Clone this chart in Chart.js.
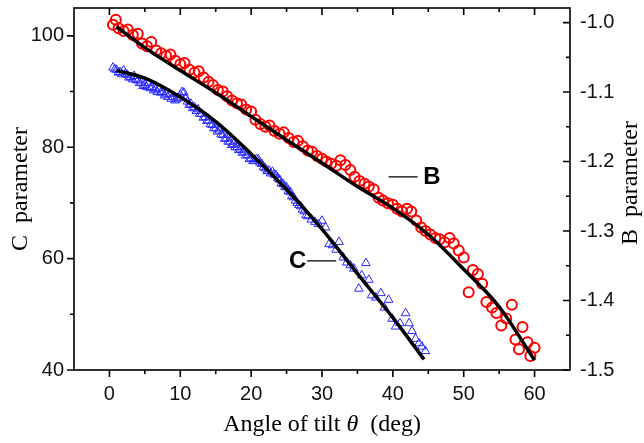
<!DOCTYPE html>
<html>
<head>
<meta charset="utf-8">
<script src="https://cdn.jsdelivr.net/npm/chart.js@4.4.0/dist/chart.umd.min.js"></script>
<style>
  html, body { margin: 0; padding: 0; background: #fff; }
</style>
</head>
<body>
<canvas id="chart" width="644" height="443"></canvas>
<script>
// B parameter (red circles, right axis)
const bAngle = [0.5, 0.9, 1.3, 2.0, 2.6, 3.3, 4.0, 4.6, 5.3, 5.9, 6.6, 7.3, 8.0, 8.6, 9.3, 10.0, 10.6, 11.3, 12.0, 12.6,
  13.3, 14.0, 14.6, 15.3, 16.0, 16.6, 17.3, 18.0, 18.6, 19.3, 20.0, 20.6, 21.3, 22.0, 22.6, 23.3, 24.0, 24.6, 25.3, 26.0,
  26.6, 27.3, 28.0, 28.6, 29.3, 30.0, 30.6, 31.3, 32.0, 32.6, 33.3, 34.0, 34.6, 35.3, 36.0, 36.6, 37.3, 38.0, 38.6, 39.3,
  40.0, 40.6, 41.3, 42.0, 42.6, 43.3, 44.0, 44.6, 45.3, 46.0, 46.6, 47.3, 48.0, 48.6, 49.3, 50.0, 50.7, 51.3, 52.0, 52.6,
  53.2, 54.0, 54.6, 55.3, 56.0, 56.8, 57.3, 57.8, 58.3, 59.0, 59.4, 60.0];
const bValue = [-1.003, -0.996, -1.008, -1.012, -1.010, -1.018, -1.016, -1.030, -1.034, -1.028, -1.040, -1.044, -1.048, -1.046, -1.055, -1.060, -1.058, -1.068, -1.072, -1.070,
  -1.079, -1.085, -1.090, -1.097, -1.099, -1.106, -1.112, -1.116, -1.118, -1.125, -1.128, -1.140, -1.146, -1.150, -1.148, -1.156, -1.160, -1.158, -1.166, -1.172,
  -1.170, -1.178, -1.184, -1.186, -1.192, -1.196, -1.200, -1.203, -1.206, -1.198, -1.205, -1.212, -1.222, -1.228, -1.232, -1.236, -1.240, -1.252, -1.256, -1.260,
  -1.262, -1.268, -1.272, -1.268, -1.272, -1.285, -1.295, -1.300, -1.305, -1.310, -1.312, -1.316, -1.310, -1.318, -1.328, -1.338, -1.388, -1.356, -1.362, -1.376,
  -1.402, -1.410, -1.418, -1.436, -1.426, -1.406, -1.456, -1.470, -1.438, -1.460, -1.480, -1.468];

// C parameter (blue triangles, left axis)
const cAngle = [0.5, 0.75, 1.0, 1.25, 1.5, 1.75, 2.0, 2.25, 2.5, 2.75, 3.0, 3.25, 3.5, 3.75, 4.0, 4.25, 4.5, 4.75, 5.0, 5.25,
  5.5, 5.75, 6.0, 6.25, 6.5, 6.75, 7.0, 7.25, 7.5, 7.75, 8.0, 8.25, 8.5, 8.75, 9.0, 9.25, 9.5, 9.75, 10.0, 10.25,
  10.5, 10.75, 11.0, 11.25, 11.5, 11.75, 12.0, 12.25, 12.5, 12.75, 13.0, 13.25, 13.5, 13.75, 14.0, 14.25, 14.5, 14.75, 15.0, 15.25,
  15.5, 15.75, 16.0, 16.25, 16.5, 16.75, 17.0, 17.25, 17.5, 17.75, 18.0, 18.25, 18.5, 18.75, 19.0, 19.25, 19.5, 19.75, 20.0, 20.25,
  20.5, 20.75, 21.0, 21.25, 21.5, 21.75, 22.0, 22.25, 22.5, 22.75, 23.0, 23.25, 23.5, 23.75, 24.0, 24.25, 24.5, 24.75, 25.0, 25.25,
  25.5, 25.75, 26.0, 26.25, 26.5, 26.75, 27.0, 27.25, 27.5, 27.75, 28.0, 28.5, 29.0, 29.5, 30.0,
  30.5, 31.0, 31.5, 32.0, 32.4, 33.0, 33.5, 34.0, 34.5, 35.2, 35.6, 36.2, 36.6, 37.0, 37.6, 38.3, 38.8, 39.4, 39.9, 40.4,
  41.0, 41.8, 42.3, 42.7, 43.2, 43.7, 44.1, 44.6];
const cValue = [94.3, 94.0, 93.9, 93.4, 93.5, 93.1, 93.8, 93.2, 93.0, 92.5, 92.6, 92.2, 92.8, 92.1, 92.0, 91.5, 91.6, 91.0, 91.2, 90.8,
  91.5, 90.6, 90.8, 90.2, 90.4, 89.9, 90.6, 89.8, 89.9, 89.3, 89.5, 89.0, 89.6, 88.7, 89.0, 88.4, 88.6, 88.9, 89.4, 89.9,
  89.8, 88.9, 88.2, 87.6, 87.8, 87.0, 87.2, 86.5, 86.8, 86.0, 86.0, 85.3, 85.4, 84.7, 84.8, 84.1, 84.0, 83.4, 83.4, 82.8,
  83.0, 82.3, 82.2, 81.5, 81.6, 81.0, 81.0, 80.4, 80.6, 80.0, 80.0, 79.5, 79.6, 79.0, 79.2, 78.5, 78.6, 77.9, 78.0, 77.5,
  77.6, 77.9, 77.8, 77.2, 77.0, 76.4, 76.2, 75.7, 75.8, 75.3, 75.6, 75.1, 75.0, 74.4, 74.2, 73.5, 73.4, 72.9, 72.8, 72.1,
  72.0, 71.2, 71.0, 70.4, 70.0, 69.6, 69.4, 68.8, 68.5, 67.8, 67.6, 67.0, 66.6, 66.2, 66.8,
  65.6, 62.6, 62.4, 61.6, 63.0, 60.2, 59.3, 58.8, 58.2, 54.6, 57.0, 59.2, 56.2, 53.4, 53.0, 53.8, 51.2, 52.6, 49.2, 47.8,
  48.4, 50.2, 48.4, 47.0, 45.6, 44.8, 44.2, 43.4];

// fitted curves
const bFitAngle = [1, 5, 10, 15, 20, 25, 30, 35, 40, 45, 50, 55, 60];
const bFitValue = [-1.006, -1.036, -1.069, -1.101, -1.135, -1.169, -1.202, -1.236, -1.267, -1.305, -1.355, -1.409, -1.486];
const cFitAngle = [1, 5, 10, 15, 20, 25, 30, 35, 40, 44.4];
const cFitValue = [93.8, 92.4, 89.0, 84.6, 78.8, 72.4, 65.3, 57.3, 49.4, 41.9];

// ticks
const xMajor = [0, 10, 20, 30, 40, 50, 60];
const xMinor = [5, 15, 25, 35, 45, 55];
const cMajor = [40, 60, 80, 100];
const cMinor = [50, 70, 90];
const bMajor = [-1.5, -1.4, -1.3, -1.2, -1.1, -1.0];
const bMinor = [-1.45, -1.35, -1.25, -1.15, -1.05];

function points(xs, ys) {
  return xs.map((v, i) => ({ x: v, y: ys[i] }));
}

const serif = '"Liberation Serif", "Times New Roman", serif';

// frame, tick marks, labels B / C and the axis titles Chart.js can't do
const decor = {
  id: 'decor',
  afterDatasetsDraw(chart) {
    const { ctx, chartArea: a, scales } = chart;
    const sx = scales.x, sy = scales.y, sb = scales.y1;
    const big = 7, small = 4;
    ctx.save();
    ctx.strokeStyle = '#000';
    ctx.lineWidth = 1.6;
    ctx.strokeRect(a.left, a.top, a.right - a.left, a.bottom - a.top);
    ctx.beginPath();
    const xt = (v, len) => {
      const p = sx.getPixelForValue(v);
      ctx.moveTo(p, a.bottom); ctx.lineTo(p, a.bottom + len);
      ctx.moveTo(p, a.top); ctx.lineTo(p, a.top + len);
    };
    xMajor.forEach(v => xt(v, big));
    xMinor.forEach(v => xt(v, small));
    cMajor.forEach(v => { const p = sy.getPixelForValue(v); ctx.moveTo(a.left, p); ctx.lineTo(a.left - big, p); });
    cMinor.forEach(v => { const p = sy.getPixelForValue(v); ctx.moveTo(a.left, p); ctx.lineTo(a.left - small, p); });
    bMajor.forEach(v => { const p = sb.getPixelForValue(v); ctx.moveTo(a.right, p); ctx.lineTo(a.right - big, p); });
    bMinor.forEach(v => { const p = sb.getPixelForValue(v); ctx.moveTo(a.right, p); ctx.lineTo(a.right - small, p); });
    ctx.stroke();

    // curve labels
    ctx.lineWidth = 1.2;
    ctx.beginPath();
    let yb = sb.getPixelForValue(-1.222);
    ctx.moveTo(sx.getPixelForValue(39.4), yb); ctx.lineTo(sx.getPixelForValue(43.5), yb);
    let yc = sy.getPixelForValue(59.6);
    ctx.moveTo(sx.getPixelForValue(27.9), yc); ctx.lineTo(sx.getPixelForValue(32.0), yc);
    ctx.stroke();
    ctx.fillStyle = '#000';
    ctx.font = 'bold 24px "Liberation Sans", Arial, sans-serif';
    ctx.textBaseline = 'middle';
    ctx.textAlign = 'left';
    ctx.fillText('B', sx.getPixelForValue(44.3), yb + 1);
    ctx.textAlign = 'right';
    ctx.fillText('C', sx.getPixelForValue(27.8), yc + 1);

    // x title with italic theta
    const parts = [['Angle of tilt ', '24px ' + serif], ['θ', 'italic 24px ' + serif], ['  (deg)', '24px ' + serif]];
    let total = 0;
    parts.forEach(p => { ctx.font = p[1]; total += ctx.measureText(p[0]).width; });
    let px = (a.left + a.right) / 2 - total / 2;
    ctx.textAlign = 'left';
    parts.forEach(p => { ctx.font = p[1]; ctx.fillText(p[0], px, 425); px += ctx.measureText(p[0]).width; });

    // right axis title, read bottom to top
    ctx.font = '24px ' + serif;
    ctx.textAlign = 'center';
    ctx.translate(631, (a.top + a.bottom) / 2 - 6);
    ctx.rotate(-Math.PI / 2);
    ctx.fillText('B  parameter', 0, 0);
    ctx.restore();
  }
};

const tickFont = { family: '"Liberation Sans", Arial, sans-serif', size: 20 };
const titleFont = { family: serif, size: 24 };

function fixSide(s) {
  s.width = 74;
  s.paddingTop = 0;
  s.paddingBottom = 0;
}

new Chart(document.getElementById('chart'), {
  type: 'scatter',
  data: {
    datasets: [
      {
        label: 'B fit',
        data: points(bFitAngle, bFitValue),
        yAxisID: 'y1',
        showLine: true,
        borderColor: '#000',
        borderWidth: 3.5,
        pointRadius: 0,
        cubicInterpolationMode: 'monotone',
        order: 0
      },
      {
        label: 'C fit',
        data: points(cFitAngle, cFitValue),
        yAxisID: 'y',
        showLine: true,
        borderColor: '#000',
        borderWidth: 3.5,
        pointRadius: 0,
        cubicInterpolationMode: 'monotone',
        order: 0
      },
      {
        label: 'B',
        data: points(bAngle, bValue),
        yAxisID: 'y1',
        pointStyle: 'circle',
        pointRadius: 5,
        borderWidth: 2,
        borderColor: '#ff0000',
        backgroundColor: 'rgba(0,0,0,0)',
        order: 2
      },
      {
        label: 'C',
        data: points(cAngle, cValue),
        yAxisID: 'y',
        pointStyle: 'triangle',
        pointRadius: 5,
        borderWidth: 1,
        borderColor: '#2828ff',
        backgroundColor: 'rgba(0,0,0,0)',
        order: 1
      }
    ]
  },
  options: {
    responsive: false,
    animation: false,
    events: [],
    layout: { padding: { top: 8, left: 0, right: 0, bottom: 0 } },
    plugins: { legend: { display: false }, tooltip: { enabled: false } },
    scales: {
      x: {
        type: 'linear',
        position: 'bottom',
        min: -5,
        max: 65,
        afterBuildTicks: s => { s.ticks = xMajor.map(v => ({ value: v })); },
        afterFit: s => { s.height = 73; s.paddingLeft = 0; s.paddingRight = 0; },
        grid: { display: false, drawTicks: false },
        border: { display: false },
        ticks: { font: tickFont, color: '#111', padding: 12, maxRotation: 0 }
      },
      y: {
        type: 'linear',
        position: 'left',
        min: 40,
        max: 105,
        afterBuildTicks: s => { s.ticks = cMajor.map(v => ({ value: v })); },
        afterFit: fixSide,
        grid: { display: false, drawTicks: false },
        border: { display: false },
        ticks: { font: tickFont, color: '#111', padding: 10 },
        title: { display: true, text: 'C  parameter', font: titleFont, color: '#000', padding: { top: 6, bottom: 0 } }
      },
      y1: {
        type: 'linear',
        position: 'right',
        min: -1.5,
        max: -0.979,
        afterBuildTicks: s => { s.ticks = bMajor.map(v => ({ value: v })); },
        afterFit: fixSide,
        grid: { display: false, drawTicks: false },
        border: { display: false },
        ticks: { font: tickFont, color: '#111', padding: 10, callback: v => v.toFixed(1) }
      }
    }
  },
  plugins: [decor]
});
</script>
</body>
</html>
